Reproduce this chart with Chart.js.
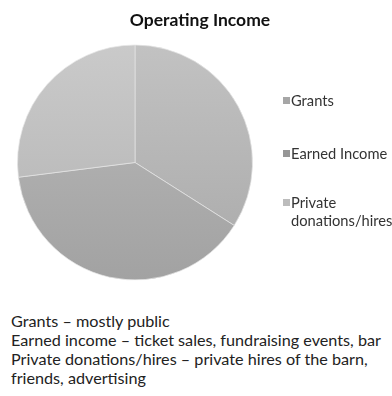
<!DOCTYPE html>
<html>
<head>
<meta charset="utf-8">
<script src="https://cdn.jsdelivr.net/npm/chart.js@4.4.0/dist/chart.umd.min.js"></script>
<style>
  html, body { margin:0; padding:0; background:#fff; }
  #wrap { position:relative; width:392px; height:396px; overflow:hidden; font-family:'Lato', sans-serif; }
  #title { position:absolute; left:0; width:400px; top:9px; text-align:center; font-weight:bold; font-size:17.5px; color:#111; }
  #chart { position:absolute; left:0; top:0; }
  #legend { position:absolute; left:283px; top:0; font-size:14.7px; color:#333; }
  .lg { position:absolute; left:0; white-space:nowrap; line-height:18px; }
  .lg i { position:absolute; left:0; top:6px; width:7px; height:7px; }
  .lg span { position:absolute; left:8px; top:0; }
  #notes { position:absolute; left:11px; top:311px; font-size:16.2px; line-height:19px; color:#222; white-space:nowrap; }
</style>
</head>
<body>
<div id="wrap">
  <canvas id="chart" width="392" height="300"></canvas>
  <div id="title">Operating Income</div>
  <div id="legend"></div>
  <div id="notes"></div>
</div>
<script>
// ── Datos ─────────────────────────────────────────────
const labels = ['Grants', 'Earned Income', 'Private donations/hires'];
const legendLines = [['Grants'], ['Earned Income'], ['Private', 'donations/hires']];
const values = [34, 39, 27];
const notes = [
  'Grants \u2013 mostly public',
  'Earned income \u2013 ticket sales, fundraising events, bar',
  'Private donations/hires \u2013 private hires of the barn,',
  'friends, advertising'
];

// grises: arriba / abajo de cada tajada
const topColors = ['#c2c2c2', '#bababa', '#cacaca'];
const botColors = ['#a9a9a9', '#a2a2a2', '#b2b2b2'];
const swatch = ['#a6a6a6', '#969696', '#bcbcbc'];

function sliceFill(ctx) {
  const chart = ctx.chart, a = chart.chartArea;
  if (!a) return topColors[ctx.dataIndex];
  const g = chart.ctx.createLinearGradient(0, a.top, 0, a.bottom);
  g.addColorStop(0, topColors[ctx.dataIndex]);
  g.addColorStop(1, botColors[ctx.dataIndex]);
  return g;
}

new Chart(document.getElementById('chart'), {
  type: 'pie',
  data: {
    labels,
    datasets: [{ data: values, backgroundColor: sliceFill, borderColor: 'rgba(230,230,230,.7)', borderWidth: 1 }]
  },
  options: {
    responsive: false,
    animation: false,
    layout: { padding: { left: 17, right: 139, top: 44, bottom: 19 } },
    plugins: { legend: { display: false }, title: { display: false }, tooltip: { enabled: false } }
  }
});

// ── Leyenda ───────────────────────────────────────────
const legendTops = [91, 144, 193];
const legend = document.getElementById('legend');
legendLines.forEach((lines, i) => {
  const d = document.createElement('div');
  d.className = 'lg';
  d.style.top = legendTops[i] + 'px';
  d.innerHTML = '<i style="background:' + swatch[i] + '"></i><span>' + lines.join('<br>') + '</span>';
  legend.appendChild(d);
});

// ── Notas ─────────────────────────────────────────────
document.getElementById('notes').innerHTML = notes.join('<br>');
</script>
</body>
</html>
